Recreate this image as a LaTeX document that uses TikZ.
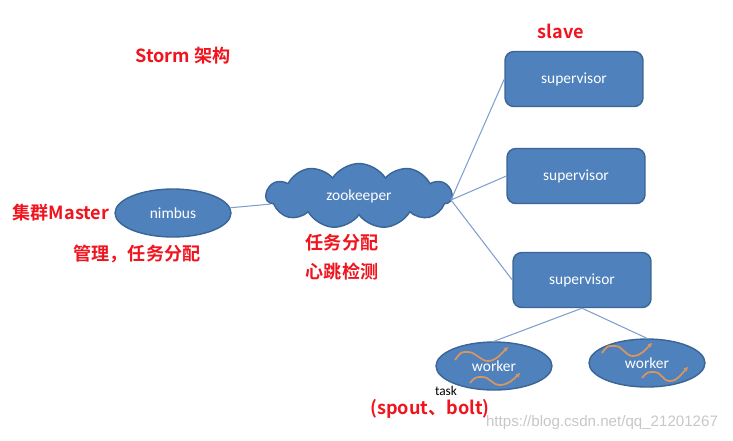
\documentclass[tikz,border=0pt]{standalone}
\usepackage{fontspec}
\usetikzlibrary{positioning,arrows.meta,calc,shapes.geometric,shapes.symbols}
\setmainfont{Carlito}
\newfontfamily\cjk{Noto Sans CJK SC}[BoldFont={* Bold}]
\newfontfamily\wmfont{Liberation Sans}
\definecolor{boxfill}{HTML}{4F81BD}
\definecolor{boxline}{HTML}{3A6595}
\definecolor{wire}{HTML}{7F9FCF}
\definecolor{squigc}{HTML}{D9955F}
\definecolor{hot}{HTML}{F0141E}
\newcommand{\redlbl}[1]{{\cjk\bfseries #1}}

\begin{document}
\begin{tikzpicture}[
    x=0.02cm, y=-0.02cm,
    every node/.style={font=\fontsize{8.8}{10}\selectfont},
    sup/.style={
        rectangle, rounded corners=5pt, draw=boxline, thick, fill=boxfill,
        text=white, minimum width=2.76cm, minimum height=1.1cm
    },
    oval/.style={
        ellipse, draw=boxline, thick, fill=boxfill, text=white,
        inner sep=0pt, minimum width=2.32cm, minimum height=0.96cm
    },
    zkcloud/.style={
        cloud, cloud puffs=11, cloud puff arc=115, aspect=2.8,
        draw=boxline, thick, fill=boxfill, text=white,
        minimum width=3.72cm, minimum height=1.3cm
    },
    wire/.style={draw=wire, line width=0.6pt},
    squig/.style={draw=squigc, line width=1pt, -{Stealth[length=2.5pt,width=2.5pt]}},
    note/.style={text=hot, font=\fontsize{10.3}{12}\selectfont, inner sep=1pt}
]
\useasboundingbox (0,0) rectangle (733,440);

% Master side
\node[oval]    (nimbus) at (173,213) {nimbus};
\node[zkcloud] (zk)     at (359,196) {zookeeper};

% Slaves
\node[sup] (sup1) at (574,79)  {supervisor};
\node[sup] (sup2) at (576,176) {supervisor};
\node[sup] (sup3) at (582,280) {supervisor};

% Workers
\node[oval] (w1) at (494,366) {worker};
\node[oval] (w2) at (647,363) {worker};

% ── connectors ──────────────────────────────────────────────
\coordinate (hub) at (451,200);
\draw[wire] (nimbus) -- (zk);
\draw[wire] (hub) -- (sup1.west);
\draw[wire] (hub) -- (sup2.west);
\draw[wire] (hub) -- (sup3.west);
\draw[wire] (sup3.south) -- (w1.north);
\draw[wire] (sup3.south) -- (w2.north);

% ── tasks inside the workers ────────────────────────────────
\draw[squig] ($(w1)+(-39,-6)$)  .. controls +(6,-8) and +(-8,0) .. ++(13,-8)
  .. controls +(8,0) and +(-8,0) .. ++(20,9) .. controls +(8,0) and +(-6,6) .. ++(20,-14);
\draw[squig] ($(w1)+(-24,17)$)  .. controls +(5,-6) and +(-6,0) .. ++(12,-6)
  .. controls +(8,0) and +(-8,0) .. ++(18,8) .. controls +(8,0) and +(-6,6) .. ++(20,-12);
\draw[squig] ($(w2)+(-45,-10)$) .. controls +(6,-8) and +(-8,0) .. ++(13,-7)
  .. controls +(8,0) and +(-8,0) .. ++(18,10) .. controls +(8,0) and +(-6,6) .. ++(19,-13);
\draw[squig] ($(w2)+(-5,15)$)   .. controls +(5,-6) and +(-6,0) .. ++(12,-6)
  .. controls +(8,0) and +(-8,0) .. ++(16,9) .. controls +(8,0) and +(-6,6) .. ++(18,-14);

% ── labels ──────────────────────────────────────────────────
\node[note] (title)  at (183,56)  {\redlbl{Storm 架构}};
\node[note] (slave)  at (561,31)  {\redlbl{slave}};
\node[note] (master) at (61,213)  {\redlbl{集群Master}};
\node[note] (mgmt)   at (137,254) {\redlbl{管理，任务分配}};
\node[note] (assign) at (342,243) {\redlbl{任务分配}};
\node[note] (beat)   at (342,272) {\redlbl{心跳检测}};
\node[font=\fontsize{7.6}{8}\selectfont, inner sep=0.5pt] (task) at (446,391) {task};
\node[note] (sb)     at (430,409) {\redlbl{(spout、bolt)}};
\node[text=black!22, font=\wmfont\fontsize{8.6}{10}\selectfont] (wm) at (602,423) {https://blog.csdn.net/qq\_21201267};

\end{tikzpicture}
\end{document}
